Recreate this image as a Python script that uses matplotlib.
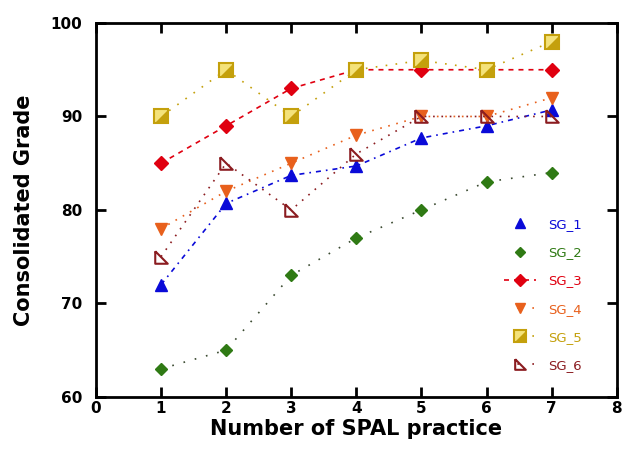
import matplotlib
matplotlib.use("Agg")
import matplotlib.pyplot as plt
from matplotlib.lines import Line2D

# practice number (x) and grades per study group
practice = [1, 2, 3, 4, 5, 6, 7]
sg_1 = [72, 80.7, 83.7, 84.7, 87.7, 89, 90.7]
sg_2 = [63, 65, 73, 77, 80, 83, 84]
sg_3 = [85, 89, 93, 95, 95, 95, 95]
sg_4 = [78, 82, 85, 88, 90, 90, 92]
sg_5 = [90, 95, 90, 95, 96, 95, 98]
sg_6 = [75, 85, 80, 86, 90, 90, 90]
labels = ["SG_1", "SG_2", "SG_3", "SG_4", "SG_5", "SG_6"]

plt.rcParams['font.family'] = ['DejaVu Sans']

fig = plt.figure(figsize=(6.23, 4.51), dpi=100)
ax = fig.add_axes([0.154, 0.12, 0.836, 0.829])

blue = "#0a0ad8"
green = "#2f7a14"
red = "#e00010"
orange = "#e8601c"
olive = "#c4a00c"
maroon = "#8b1c20"

tri_rb = [(-1, 1), (-1, -1), (1, -1), (-1, 1)]   # open right triangle
half_sq = [(1, 1), (1, -1), (-1, -1), (1, 1)]   # lower-right half of square

styles = [
    dict(color=blue, ls=(0, (3, 3, 1, 3)), marker="^", ms=9),
    dict(color="#3a4a30", ls=(0, (1, 6)), marker="D", ms=6, mfc=green, mec=green),
    dict(color=red, ls=(0, (3, 3)), marker="D", ms=7),
    dict(color=orange, ls=(0, (1, 4)), marker="v", ms=9),
    dict(color=olive, ls=(0, (1, 5)), marker="s", ms=10, mfc="#f4e27a", mec=olive, mew=1.5),
    dict(color=maroon, ls=(0, (1, 4)), marker=tri_rb, ms=9, mfc="none", mec=maroon, mew=1.5),
]
series = [sg_1, sg_2, sg_3, sg_4, sg_5, sg_6]

for ys, st, lab in zip(series, styles, labels):
    ax.plot(practice, ys, lw=1.2, label=lab, **st)
ax.plot(practice, sg_5, ls="none", marker=half_sq, ms=10, color=olive, mew=0)

ax.set_xlim(0, 8)
ax.set_ylim(60, 100)
ax.set_xticks(range(0, 9))
ax.set_yticks([60, 70, 80, 90, 100])

for s in ax.spines.values():
    s.set_linewidth(2)
ax.tick_params(direction="in", length=7, width=2, top=True, right=True,
               labelsize=11)
ax.tick_params(axis="y", pad=10)
ax.tick_params(axis="x", pad=3)
for lab in ax.get_xticklabels() + ax.get_yticklabels():
    lab.set_fontweight("bold")

ax.set_xlabel("Number of SPAL practice", fontsize=15, fontweight="bold", labelpad=2)
ax.set_ylabel("Consolidated Grade", fontsize=15, fontweight="bold", labelpad=12)

# legend handles: only SG_3 shows its dashed line, the dotted ones show a dot or two
leg_ls = ["none", "none", (0, (3, 3)), (1, (1, 8)), (1, (1, 8)), (1, (1, 8))]
handles = []
for st, lab, lls in zip(styles, labels, leg_ls):
    d = dict(st)
    d["ls"] = lls
    d["ms"] = st["ms"] * 0.85
    handles.append(Line2D([], [], lw=1.2, **d))
# split square for SG_5
handles[4] = (handles[4], Line2D([], [], ls="none", marker=half_sq, ms=8.5,
                                 color=olive, mew=0))

leg = ax.legend(handles, labels, loc="lower right", bbox_to_anchor=(0.955, 0.035),
                frameon=False, fontsize=9.5, labelspacing=1.15, handlelength=2.4,
                handletextpad=0.9)
for txt, c in zip(leg.get_texts(), [blue, green, red, orange, olive, maroon]):
    txt.set_color(c)

fig.savefig("out.png", dpi=100)
